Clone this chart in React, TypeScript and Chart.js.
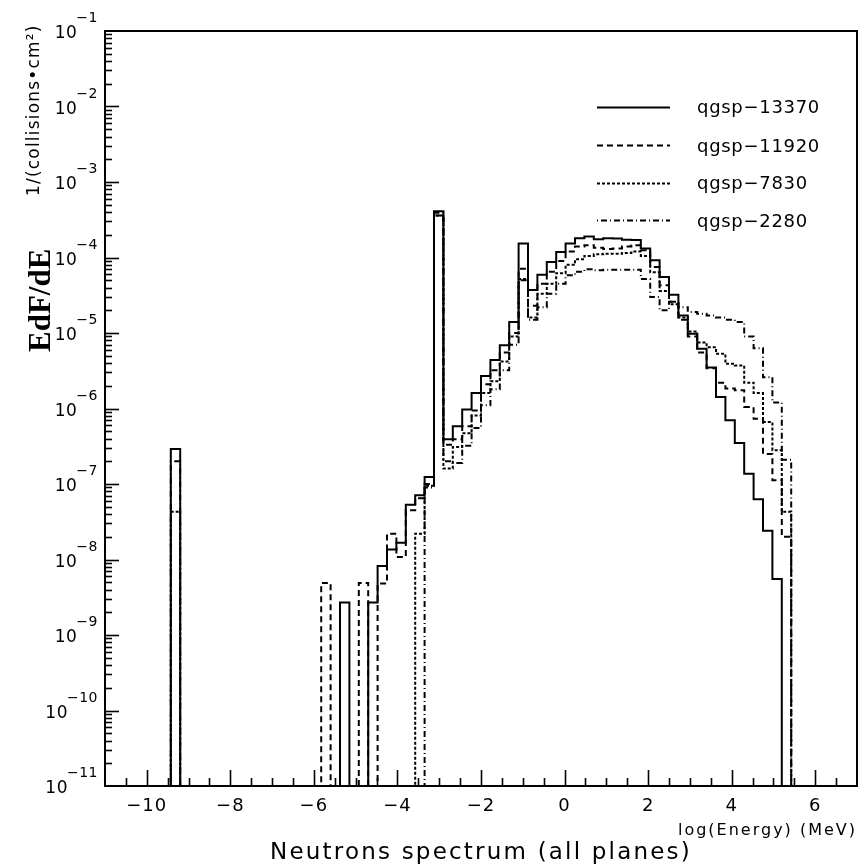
import React, { useEffect, useRef } from "react";
import { Chart, registerables } from "chart.js";

Chart.register(...registerables);

// Histogram binning (log10 of energy in MeV)
const HIST_MIN = -11;
const HIST_MAX = 7;
const N_BINS = 80;

// Axis ranges and ticks
const X_MIN = -11;
const X_MAX = 7;
const Y_MIN = 1e-11;
const Y_MAX = 1e-1;
const X_MAJOR_TICKS = [-10, -8, -6, -4, -2, 0, 2, 4, 6];
const X_TICK_LABELS = ["\u221210", "\u22128", "\u22126", "\u22124", "\u22122", "0", "2", "4", "6"];
const Y_DECADES = [-11, -10, -9, -8, -7, -6, -5, -4, -3, -2, -1];

const SERIES_LABELS = ["qgsp\u221213370", "qgsp\u221211920", "qgsp\u22127830", "qgsp\u22122280"];

// Bin contents (80 bins, 0 = empty bin)
const qgsp13370 = [
  0, 0, 0, 0, 0, 0, 0, 2.9e-7, 0, 0,
  0, 0, 0, 0, 0, 0, 0, 0, 0, 0,
  0, 0, 0, 0, 0, 2.7e-9, 0, 0, 2.7e-9, 8.2e-9,
  1.36e-8, 1.67e-8, 5.3e-8, 7.1e-8, 1.24e-7, 4.1e-4, 3.9e-7, 5.8e-7, 9.7e-7, 1.6e-6,
  2.7e-6, 4.4e-6, 6.9e-6, 1.4e-5, 1.53e-4, 3.7e-5, 5.9e-5, 8.7e-5, 1.18e-4, 1.53e-4,
  1.8e-4, 1.9e-4, 1.75e-4, 1.8e-4, 1.78e-4, 1.72e-4, 1.7e-4, 1.32e-4, 9.2e-5, 5.5e-5,
  3.2e-5, 1.7e-5, 9.8e-6, 6.2e-6, 3.5e-6, 1.42e-6, 7e-7, 3.5e-7, 1.37e-7, 6.3e-8,
  2.4e-8, 5.5e-9, 0, 0, 0, 0, 0, 0, 0, 0,
];

const qgsp11920 = [
  0, 0, 0, 0, 0, 0, 0, 0, 0, 0,
  0, 0, 0, 0, 0, 0, 0, 0, 0, 0,
  0, 0, 0, 4.9e-9, 0, 0, 0, 4.9e-9, 0, 4.8e-9,
  2.2e-8, 1.08e-8, 4.5e-8, 6.5e-8, 1.0e-7, 3.6e-4, 3.3e-7, 3.9e-7, 5.8e-7, 9.4e-7,
  2.1e-6, 3.2e-6, 5.5e-6, 1.0e-5, 7.1e-5, 2.3e-5, 4.5e-5, 6.5e-5, 9.0e-5, 1.2e-4,
  1.4e-4, 1.45e-4, 1.35e-4, 1.3e-4, 1.32e-4, 1.4e-4, 1.45e-4, 1.25e-4, 7.5e-5, 4.3e-5,
  2.6e-5, 1.5e-5, 9.0e-6, 5.5e-6, 3.4e-6, 2.2e-6, 1.84e-6, 1.75e-6, 1.05e-6, 7.3e-7,
  2.5e-7, 1.12e-7, 2.0e-8, 0, 0, 0, 0, 0, 0, 0,
];

const qgsp7830 = [
  0, 0, 0, 0, 0, 0, 0, 4.3e-8, 0, 0,
  0, 0, 0, 0, 0, 0, 0, 0, 0, 0,
  0, 0, 0, 0, 0, 0, 0, 0, 0, 0,
  0, 0, 0, 2.2e-8, 9.5e-8, 3.6e-4, 1.6e-7, 3.1e-7, 4.7e-7, 8.1e-7,
  1.6e-6, 2.3e-6, 4.2e-6, 9.0e-6, 5.2e-5, 1.6e-5, 3.3e-5, 4.5e-5, 6.2e-5, 8.0e-5,
  9.5e-5, 1.05e-4, 1.1e-4, 1.12e-4, 1.12e-4, 1.15e-4, 1.2e-4, 1.05e-4, 6.4e-5, 3.6e-5,
  2.4e-5, 1.6e-5, 1.05e-5, 7.5e-6, 6.5e-6, 5.3e-6, 3.9e-6, 3.7e-6, 2.2e-6, 1.6e-6,
  6.6e-7, 2.8e-7, 4.3e-8, 0, 0, 0, 0, 0, 0, 0,
];

const qgsp2280 = [
  0, 0, 0, 0, 0, 0, 0, 2.0e-7, 0, 0,
  0, 0, 0, 0, 0, 0, 0, 0, 0, 0,
  0, 0, 0, 0, 0, 0, 0, 0, 0, 0,
  0, 0, 0, 0, 9.0e-8, 3.9e-4, 2.0e-7, 1.9e-7, 3.2e-7, 5.5e-7,
  1.1e-6, 1.8e-6, 3.2e-6, 7.0e-6, 5.0e-5, 1.5e-5, 2.2e-5, 3.3e-5, 4.5e-5, 5.8e-5,
  6.5e-5, 7.0e-5, 6.8e-5, 6.9e-5, 6.9e-5, 6.9e-5, 6.9e-5, 5.2e-5, 3.0e-5, 2.0e-5,
  2.6e-5, 2.2e-5, 1.9e-5, 1.8e-5, 1.7e-5, 1.6e-5, 1.5e-5, 1.4e-5, 9.0e-6, 6.3e-6,
  2.6e-6, 1.2e-6, 2.1e-7, 0, 0, 0, 0, 0, 0, 0,
];

const SERIES = [qgsp13370, qgsp11920, qgsp7830, qgsp2280];
const SERIES_DASH: number[][] = [[], [6, 4], [3, 2], [1, 3, 6, 3]];

const SANS = '"DejaVu Sans", sans-serif';

function histPoints(values: number[]) {
  const w = (HIST_MAX - HIST_MIN) / N_BINS;
  const pts = values.map((v, k) => ({ x: HIST_MIN + k * w, y: v > 0 ? v : Y_MIN }));
  const last = values[values.length - 1];
  pts.push({ x: HIST_MAX, y: last > 0 ? last : Y_MIN });
  return pts;
}

function setSpacing(ctx: any, px: number) {
  if ("letterSpacing" in ctx) ctx.letterSpacing = px + "px";
}

const rootStyle = {
  id: "rootStyle",
  afterDatasetsDraw(chart: any) {
    const { ctx, chartArea: a, scales } = chart;
    const xs = scales.x;
    const ys = scales.y;
    ctx.save();
    ctx.strokeStyle = "#000";
    ctx.fillStyle = "#000";

    // frame
    ctx.lineWidth = 2;
    ctx.setLineDash([]);
    ctx.strokeRect(a.left, a.top, a.right - a.left, a.bottom - a.top);

    // x ticks (inside, pointing up)
    ctx.lineWidth = 1.6;
    for (let v = X_MIN + 0.5; v < X_MAX; v += 0.5) {
      const px = Math.round(xs.getPixelForValue(v)) + 0.5;
      const len = X_MAJOR_TICKS.includes(v) ? 16 : 8;
      ctx.beginPath();
      ctx.moveTo(px, a.bottom);
      ctx.lineTo(px, a.bottom - len);
      ctx.stroke();
    }
    // y ticks (inside, pointing right)
    for (const e of Y_DECADES) {
      const py = Math.round(ys.getPixelForValue(Math.pow(10, e))) + 0.5;
      if (e !== -11 && e !== -1) {
        ctx.beginPath();
        ctx.moveTo(a.left, py);
        ctx.lineTo(a.left + 14, py);
        ctx.stroke();
      }
      if (e < -1) {
        for (let m = 2; m <= 9; m++) {
          const q = Math.round(ys.getPixelForValue(m * Math.pow(10, e))) + 0.5;
          ctx.beginPath();
          ctx.moveTo(a.left, q);
          ctx.lineTo(a.left + 7, q);
          ctx.stroke();
        }
      }
    }

    // x tick labels
    ctx.font = `18px ${SANS}`;
    setSpacing(ctx, 1);
    ctx.textAlign = "center";
    ctx.textBaseline = "alphabetic";
    X_MAJOR_TICKS.forEach((v, i) => {
      ctx.fillText(X_TICK_LABELS[i], xs.getPixelForValue(v), 811);
    });

    // y tick labels: 10^e
    ctx.textAlign = "left";
    for (const e of Y_DECADES) {
      const py = ys.getPixelForValue(Math.pow(10, e));
      const expText = "\u2212" + Math.abs(e);
      ctx.font = `14px ${SANS}`;
      setSpacing(ctx, 0.5);
      const ew = ctx.measureText(expText).width;
      const expLeft = 98 - ew;
      ctx.fillText(expText, expLeft, py - 9);
      ctx.font = `17px ${SANS}`;
      setSpacing(ctx, 0.5);
      const bw = ctx.measureText("10").width;
      ctx.fillText("10", expLeft + 1 - bw, py + 7);
    }

    // x axis titles
    ctx.font = `16px ${SANS}`;
    setSpacing(ctx, 2);
    ctx.textAlign = "right";
    ctx.fillText("log(Energy) (MeV)", 857, 835);
    ctx.font = `23px ${SANS}`;
    setSpacing(ctx, 2.2);
    ctx.textAlign = "center";
    ctx.fillText("Neutrons spectrum (all planes)", 481, 859);

    // y axis title (rotated)
    ctx.save();
    ctx.translate(0, 0);
    ctx.rotate(-Math.PI / 2);
    ctx.textAlign = "left";
    ctx.font = `bold 31px "Liberation Serif", serif`;
    setSpacing(ctx, 0);
    ctx.fillText("EdF/dE", -352, 50);
    ctx.font = `17px ${SANS}`;
    setSpacing(ctx, 1.2);
    ctx.fillText("1/(collisions\u2022cm\u00b2)", -196, 39);
    ctx.restore();

    // legend
    const rows = [106.7, 145, 182.7, 220];
    chart.data.datasets.forEach((ds: any, i: number) => {
      const y = Math.round(rows[i]) + 0.5;
      ctx.lineWidth = 2;
      ctx.setLineDash(ds.borderDash || []);
      ctx.beginPath();
      ctx.moveTo(597, y);
      ctx.lineTo(670, y);
      ctx.stroke();
      ctx.setLineDash([]);
      ctx.font = `18px ${SANS}`;
      setSpacing(ctx, 0.7);
      ctx.textAlign = "left";
      ctx.fillText(ds.label, 697, rows[i] + 6.5);
    });

    ctx.restore();
  },
};

export default function App() {
  const ref = useRef<HTMLCanvasElement>(null);
  useEffect(() => {
    const canvas = ref.current;
    if (!canvas) return;
    const chart = new Chart(canvas, {
      type: "line",
      data: {
        datasets: SERIES.map((vals, i) => ({
          label: SERIES_LABELS[i],
          data: histPoints(vals),
          borderColor: "#000",
          backgroundColor: "#000",
          borderWidth: 2,
          borderDash: SERIES_DASH[i],
          pointRadius: 0,
          fill: false,
          stepped: "before" as const,
          tension: 0,
        })),
      },
      options: {
        responsive: false,
        animation: false,
        events: [],
        layout: { padding: { left: 105, right: 8, top: 31, bottom: 82 } },
        scales: {
          x: { type: "linear", min: X_MIN, max: X_MAX, display: false },
          y: { type: "logarithmic", min: Y_MIN, max: Y_MAX, display: false },
        },
        plugins: { legend: { display: false }, tooltip: { enabled: false }, title: { display: false } },
      },
      plugins: [rootStyle],
    });
    return () => chart.destroy();
  }, []);
  return (
    <div style={{ position: "absolute", left: 0, top: 0, width: 865, height: 868, background: "#fff" }}>
      <canvas ref={ref} width={865} height={868} style={{ display: "block" }} />
    </div>
  );
}
